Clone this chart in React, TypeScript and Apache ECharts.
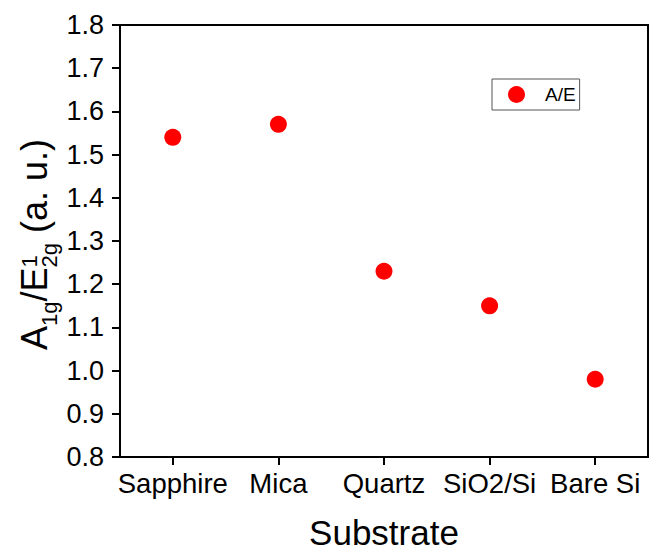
import React, { useEffect, useRef } from "react";
import * as echarts from "echarts";

const categories = ["Sapphire", "Mica", "Quartz", "SiO2/Si", "Bare Si"];
const ratioValues = [1.54, 1.57, 1.23, 1.15, 0.98];
const seriesName = "A/E";
const xAxisTitle = "Substrate";

const FONT = "'Liberation Sans', Arial, sans-serif";

export default function App() {
  const ref = useRef<HTMLDivElement>(null);
  useEffect(() => {
    if (!ref.current) return;
    const chart = echarts.init(ref.current, null, { renderer: "svg" });
    const mainF = 36;
    const subF = 22;
    const c = (base: number, f: number) => base - 0.3465 * f;
    const option = {
      animation: false,
      backgroundColor: "#fff",
      grid: {
        left: 120,
        right: 1,
        top: 25,
        bottom: 99,
        show: true,
        borderColor: "#000",
        borderWidth: 2,
        backgroundColor: "transparent",
      },
      legend: {
        left: 492,
        top: 79,
        orient: "horizontal",
        padding: [6, 4, 6, 16],
        borderColor: "#555",
        borderWidth: 1,
        itemWidth: 17,
        itemHeight: 17,
        icon: "circle",
        itemStyle: { opacity: 1 },
        textStyle: {
          fontFamily: FONT,
          fontSize: 19,
          color: "#000",
          padding: [0, 0, 0, 15],
        },
        data: [seriesName],
      },
      xAxis: {
        type: "category",
        data: categories,
        boundaryGap: true,
        name: xAxisTitle,
        nameLocation: "middle",
        nameGap: 58,
        nameTextStyle: { fontFamily: FONT, fontSize: 35, color: "#000" },
        axisLine: { show: true, lineStyle: { color: "#000", width: 2 } },
        axisTick: { show: true, alignWithLabel: true, interval: 0, length: 8, lineStyle: { color: "#000", width: 2 } },
        axisLabel: { fontFamily: FONT, fontSize: 27.5, color: "#000", margin: 12, interval: 0 },
        splitLine: { show: false },
      },
      yAxis: {
        type: "value",
        min: 0.8,
        max: 1.8,
        interval: 0.1,
        axisLine: { show: true, lineStyle: { color: "#000", width: 2 } },
        axisTick: { show: true, length: 8, lineStyle: { color: "#000", width: 2 } },
        axisLabel: {
          fontFamily: FONT,
          fontSize: 27,
          color: "#000",
          margin: 16,
          formatter: (v: number) => v.toFixed(1),
        },
        splitLine: { show: false },
      },
      graphic: [
        {
          type: "group",
          x: 47,
          y: 350,
          rotation: Math.PI / 2,
          children: [
            { type: "text", x: 0, y: c(0, mainF), style: { text: "A", fontFamily: FONT, fontSize: mainF, fill: "#000", verticalAlign: "middle", align: "left" } },
            { type: "text", x: 24, y: c(10, subF), style: { text: "1g", fontFamily: FONT, fontSize: subF, fill: "#000", verticalAlign: "middle", align: "left" } },
            { type: "text", x: 48.5, y: c(0, mainF), style: { text: "/E", fontFamily: FONT, fontSize: mainF, fill: "#000", verticalAlign: "middle", align: "left" } },
            { type: "text", x: 82.5, y: c(-10, subF), style: { text: "1", fontFamily: FONT, fontSize: subF, fill: "#000", verticalAlign: "middle", align: "left" } },
            { type: "text", x: 82.5, y: c(10, subF), style: { text: "2g", fontFamily: FONT, fontSize: subF, fill: "#000", verticalAlign: "middle", align: "left" } },
            { type: "text", x: 107, y: c(0, mainF), style: { text: " (a. u.)", fontFamily: FONT, fontSize: mainF, fill: "#000", verticalAlign: "middle", align: "left" } },
          ],
        },
      ],
      series: [
        {
          name: seriesName,
          type: "scatter",
          data: ratioValues,
          symbol: "circle",
          symbolSize: 17,
          itemStyle: { color: "#ff0000", opacity: 1 },
        },
      ],
    };
    chart.setOption(option as any);
    return () => chart.dispose();
  }, []);
  return (
    <div
      ref={ref}
      style={{ position: "fixed", left: 0, top: 0, width: 649, height: 556 }}
    />
  );
}
